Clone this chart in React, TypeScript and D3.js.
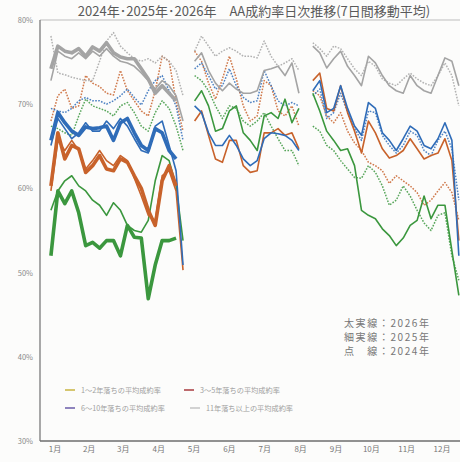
import React from "react";
import * as d3 from "d3";

const categories = [
  "1〜2年落ちの平均成約率",
  "3〜5年落ちの平均成約率",
  "6〜10年落ちの平均成約率",
  "11年落ち以上の平均成約率",
];
const lineColors = ["#3b973e", "#c8622b", "#2f6cb8", "#a4a4a4"];
const legendColors = ["#c9b440", "#a83a3e", "#6a5ca8", "#c4c4c4"];
const monthLabels = ["1月", "2月", "3月", "4月", "5月", "6月", "7月", "8月", "9月", "10月", "11月", "12月"];
const monthCenters = [15.5, 45, 74.5, 105, 135.5, 166, 196.5, 227.5, 258, 288.5, 319, 349.5];
const yTicks = [80, 70, 60, 50, 40, 30];
const yearNotes = ["太実線：2026年", "細実線：2025年", "点　線：2024年"];

// day of year for each sample (gaps = GW and Obon)
const days2026 = [12, 18, 24, 30, 36, 42, 48, 54, 60, 66, 72, 78, 84, 90, 96, 102, 108, 114, 120];
const daysA = [12, 18, 24, 30, 36, 42, 48, 54, 60, 66, 72, 78, 84, 90, 96, 102, 108, 114, 120, 126];
const daysB = [136, 142, 148, 154, 160, 166, 172, 178, 184, 190, 196, 202, 208, 214, 220, 226];
const daysC = [238, 244, 250, 256, 262, 268, 274, 280, 286, 292, 298, 304, 310, 316, 322, 328, 334, 340, 346, 352, 358, 364];

// 2026 (thick)
const green2026 = [52.0, 59.7, 58.2, 59.7, 57.1, 53.2, 53.6, 52.9, 53.8, 53.8, 52.0, 55.6, 54.2, 54.1, 46.9, 50.9, 53.8, 53.8, 54.1];
const orange2026 = [60.3, 66.6, 63.5, 65.1, 64.7, 61.9, 62.7, 63.9, 62.3, 62.1, 63.5, 63.1, 61.5, 60.0, 57.4, 55.6, 60.9, 62.7, 60.3];
const blue2026 = [65.7, 69.0, 67.8, 66.8, 66.3, 67.3, 67.1, 67.2, 67.4, 65.7, 67.8, 68.3, 66.6, 65.1, 64.5, 67.1, 66.6, 64.5, 63.5];
const gray2026 = [74.2, 76.9, 76.3, 76.1, 76.6, 75.7, 76.8, 76.3, 77.3, 76.1, 75.6, 75.4, 75.4, 74.2, 73.0, 71.3, 72.2, 71.3, 70.4];

// 2025 (thin)
const green2025a = [57.4, 59.7, 60.9, 61.5, 60.3, 59.7, 58.6, 58.0, 56.8, 58.3, 57.4, 55.6, 55.0, 54.8, 56.2, 60.9, 63.9, 63.3, 60.3, 53.8];
const orange2025a = [59.7, 65.7, 64.5, 65.7, 64.5, 62.3, 63.3, 64.5, 63.3, 62.7, 63.9, 63.3, 61.2, 59.1, 56.8, 56.2, 61.5, 62.1, 59.7, 50.3];
const blue2025a = [65.1, 68.3, 67.1, 65.9, 66.6, 67.8, 66.8, 66.8, 68.0, 67.1, 68.3, 67.4, 65.9, 64.5, 64.2, 67.4, 68.0, 65.1, 62.1, 50.9];
const gray2025a = [72.8, 76.3, 75.7, 75.4, 76.1, 75.4, 76.3, 75.7, 76.6, 75.7, 75.1, 74.9, 74.5, 73.7, 72.8, 71.8, 72.8, 72.2, 71.0, 68.0];

const green2025b = [70.4, 71.6, 69.8, 66.8, 67.1, 69.2, 69.8, 66.6, 65.7, 64.5, 68.6, 69.0, 68.3, 70.6, 67.8, 69.5];
const orange2025b = [68.0, 69.2, 66.3, 63.5, 63.1, 65.7, 65.7, 62.7, 61.9, 62.1, 66.6, 66.6, 67.1, 66.3, 66.6, 64.7];
const blue2025b = [69.8, 69.0, 66.6, 65.1, 65.1, 66.3, 65.1, 63.5, 62.7, 63.3, 65.9, 66.6, 66.5, 66.3, 65.7, 64.5];
const gray2025b = [75.1, 76.1, 74.0, 72.5, 71.6, 72.5, 71.8, 71.3, 71.3, 71.6, 74.0, 74.2, 74.5, 73.4, 74.9, 71.3];

const green2025c = [71.3, 69.2, 66.8, 65.7, 64.5, 64.7, 62.7, 57.4, 56.8, 56.4, 55.2, 54.4, 53.2, 54.1, 55.6, 56.2, 59.1, 56.4, 58.0, 58.0, 52.6, 47.3];
const orange2025c = [72.8, 73.7, 69.5, 69.2, 72.2, 69.0, 66.8, 64.2, 68.0, 66.6, 64.7, 63.6, 63.9, 64.5, 65.9, 64.7, 63.5, 63.9, 64.2, 65.9, 63.3, 53.8];
const blue2025c = [71.6, 72.8, 69.0, 69.5, 72.2, 69.5, 67.4, 66.3, 70.2, 69.5, 66.6, 65.7, 64.5, 65.9, 67.4, 66.8, 65.1, 64.7, 65.9, 67.8, 65.7, 52.0];
const gray2025c = [76.9, 76.1, 74.3, 75.4, 76.3, 74.5, 73.4, 72.2, 75.7, 74.9, 73.4, 72.2, 71.6, 71.3, 73.4, 72.2, 71.6, 71.3, 73.4, 75.5, 75.1, 72.2];

// 2024 (dotted)
const green2024a = [67.4, 67.1, 66.6, 66.3, 68.6, 70.6, 69.8, 69.5, 69.2, 68.6, 69.8, 70.2, 69.0, 67.4, 66.8, 69.0, 70.4, 69.5, 67.4, 64.5];
const orange2024a = [68.0, 71.0, 71.8, 69.5, 69.8, 73.4, 72.5, 72.1, 71.3, 71.1, 74.0, 71.6, 70.4, 69.2, 68.6, 71.6, 75.7, 75.1, 70.4, 66.8];
const blue2024a = [69.5, 69.2, 69.0, 69.5, 70.4, 70.8, 70.4, 70.4, 70.0, 70.4, 71.0, 71.8, 70.8, 69.9, 71.6, 72.8, 73.4, 71.6, 69.8, 65.7];
const gray2024a = [78.1, 73.7, 73.5, 73.2, 73.0, 72.8, 72.8, 75.1, 77.5, 78.5, 76.9, 76.1, 75.4, 75.1, 75.4, 74.9, 75.7, 75.1, 74.0, 71.0];

const green2024b = [73.4, 72.8, 71.6, 69.8, 68.3, 69.8, 69.5, 68.0, 67.4, 68.0, 69.0, 67.4, 65.9, 64.5, 64.5, 62.7];
const orange2024b = [76.3, 75.1, 72.5, 70.6, 73.0, 75.7, 73.0, 69.8, 68.0, 68.6, 72.8, 72.2, 69.2, 68.6, 69.8, 67.4];
const blue2024b = [74.2, 74.9, 73.4, 71.8, 72.2, 74.2, 72.2, 70.8, 70.2, 70.4, 74.0, 72.2, 70.4, 69.8, 70.2, 69.8];
const gray2024b = [76.3, 78.1, 76.9, 75.7, 76.3, 76.7, 76.3, 75.7, 75.7, 75.5, 77.5, 75.7, 74.5, 74.9, 75.4, 74.0];

const green2024c = [67.4, 66.8, 65.1, 64.5, 63.3, 62.3, 61.3, 61.2, 62.7, 61.9, 60.3, 58.0, 58.6, 60.3, 59.1, 57.4, 55.9, 55.0, 56.8, 57.1, 52.0, 49.1];
const orange2024c = [71.6, 71.0, 68.6, 67.8, 69.0, 66.8, 65.4, 64.5, 63.1, 62.7, 62.1, 60.6, 61.5, 60.9, 60.3, 59.5, 58.0, 58.6, 59.7, 60.7, 59.5, 56.2];
const blue2024c = [71.0, 71.8, 68.3, 69.0, 71.3, 69.0, 67.1, 65.7, 69.2, 69.0, 66.3, 65.1, 64.2, 65.1, 66.8, 66.3, 64.5, 63.9, 65.7, 66.8, 64.7, 58.6];
const gray2024c = [77.3, 76.6, 75.7, 76.9, 76.6, 75.4, 74.2, 73.4, 75.1, 74.5, 73.0, 72.5, 72.2, 73.0, 73.7, 73.0, 72.5, 72.2, 73.4, 74.9, 73.4, 69.8];

interface Segment {
  year: number;
  cat: number;
  days: number[];
  values: number[];
}

const segments: Segment[] = [
  ...[green2024a, orange2024a, blue2024a, gray2024a].map((v, i) => ({ year: 2024, cat: i, days: daysA, values: v })),
  ...[green2024b, orange2024b, blue2024b, gray2024b].map((v, i) => ({ year: 2024, cat: i, days: daysB, values: v })),
  ...[green2024c, orange2024c, blue2024c, gray2024c].map((v, i) => ({ year: 2024, cat: i, days: daysC, values: v })),
  ...[green2025a, orange2025a, blue2025a, gray2025a].map((v, i) => ({ year: 2025, cat: i, days: daysA, values: v })),
  ...[green2025b, orange2025b, blue2025b, gray2025b].map((v, i) => ({ year: 2025, cat: i, days: daysB, values: v })),
  ...[green2025c, orange2025c, blue2025c, gray2025c].map((v, i) => ({ year: 2025, cat: i, days: daysC, values: v })),
  ...[green2026, orange2026, blue2026, gray2026].map((v, i) => ({ year: 2026, cat: i, days: days2026, values: v })),
];

const width = 460;
const height = 462;
const font = "'Noto Sans CJK JP', 'Noto Sans', sans-serif";

const App: React.FC = () => {
  const x = d3.scaleLinear().domain([0, 365]).range([37, 460]);
  const y = d3.scaleLinear().domain([30, 80]).range([441, 20]);

  const line = (s: Segment) =>
    d3
      .line<number>()
      .x((_, i) => x(s.days[i]))
      .y(d => y(d))
      .curve(d3.curveLinear)(s.values) || "";

  const strokeFor = (year: number) =>
    year === 2026
      ? { w: 3.6, dash: undefined }
      : year === 2025
      ? { w: 1.6, dash: undefined }
      : { w: 1.5, dash: "1.6,1.4" };

  return (
    <svg
      width={width}
      height={height}
      style={{ position: "absolute", left: 0, top: 0 }}
      fontFamily={font}
    >
      <rect width={width} height={height} fill="#fcfcfb" />
      <text x={254} y={16} textAnchor="middle" fontSize={13} fill="#5a5a5a">
        2024年･2025年･2026年　AA成約率日次推移(7日間移動平均)
      </text>

      {/* frame */}
      <line x1={40} x2={width} y1={y(80)} y2={y(80)} stroke="#bdbdbd" strokeWidth={1} />
      <line x1={40} x2={40} y1={y(80)} y2={y(30)} stroke="#7a7a7a" strokeWidth={1.3} />
      <line x1={40} x2={width} y1={y(30)} y2={y(30)} stroke="#6e6e6e" strokeWidth={1.5} />

      {yTicks.map(t => (
        <text key={t} x={33} y={y(t) + 3} textAnchor="end" fontSize={7.5} fill="#8a8a8a">
          {t}%
        </text>
      ))}
      {monthLabels.map((m, i) => (
        <text key={m} x={x(monthCenters[i])} y={452} textAnchor="middle" fontSize={8} fill="#777">
          {m}
        </text>
      ))}

      {segments.map((s, i) => {
        const st = strokeFor(s.year);
        return (
          <path
            key={i}
            d={line(s)}
            fill="none"
            stroke={lineColors[s.cat]}
            strokeWidth={st.w}
            strokeDasharray={st.dash}
            strokeLinejoin="round"
            opacity={s.year === 2024 ? 0.85 : 1}
          />
        );
      })}

      {yearNotes.map((n, i) => (
        <text key={n} x={344} y={327 + i * 14} fontSize={10} letterSpacing={1.6} fill="#777">
          {n}
        </text>
      ))}

      {categories.map((c, i) => {
        const lx = [65, 184, 65, 190][i];
        const ly = i < 2 ? 390 : 408;
        return (
          <g key={c}>
            <line x1={lx} x2={lx + 10} y1={ly} y2={ly} stroke={legendColors[i]} strokeWidth={1.5} />
            <text x={lx + 16} y={ly + 2.5} fontSize={7.2} fill="#a0a0a0">
              {c}
            </text>
          </g>
        );
      })}
    </svg>
  );
};

export default App;
